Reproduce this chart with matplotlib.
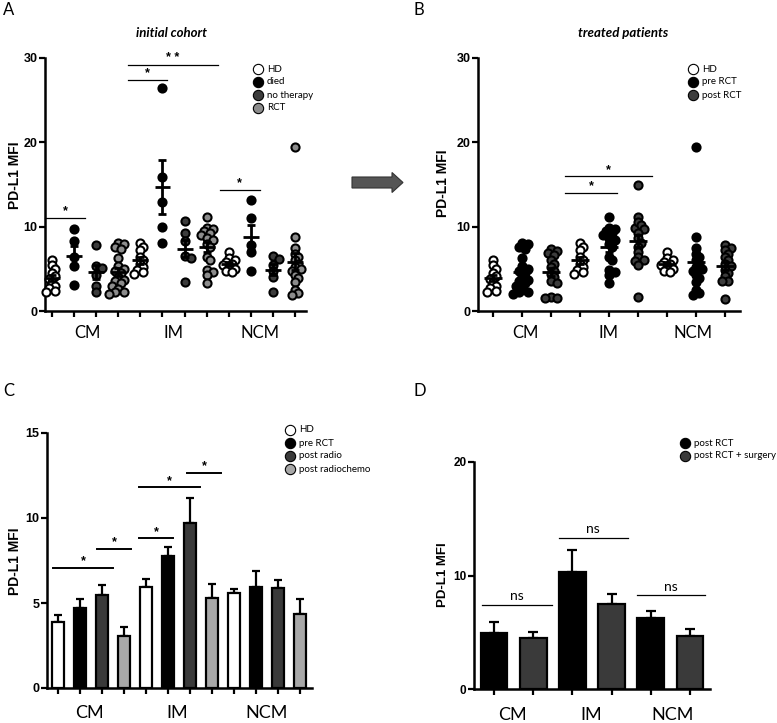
import numpy as np
import matplotlib
matplotlib.use('Agg')
import matplotlib.pyplot as plt
from matplotlib.patches import FancyArrow

# ---------------- DATA ----------------
groups = ['CM', 'IM', 'NCM']

# Panel A: initial cohort (individual values)
a_labels = ['HD', 'died', 'no therapy', 'RCT']
hd_cm = [6.1, 5.4, 5.0, 4.5, 4.1, 3.8, 3.4, 3.0, 2.7, 2.4, 2.3]
hd_im = [8.1, 7.6, 7.2, 6.4, 6.0, 5.6, 5.2, 4.9, 4.6, 4.4]
hd_ncm = [7.0, 6.3, 6.0, 5.8, 5.6, 5.4, 5.2, 5.0, 4.8, 4.6]
died_cm = [9.7, 8.3, 6.4, 5.3, 3.1]
died_im = [26.5, 15.9, 12.9, 10.0, 8.1]
died_ncm = [13.2, 11.0, 7.8, 7.0, 4.7]
noth_cm = [7.8, 5.3, 5.1, 4.3, 3.0, 2.3]
noth_im = [10.7, 9.2, 8.3, 6.5, 6.3, 3.4]
noth_ncm = [6.5, 6.2, 5.5, 4.8, 4.0, 2.3]
rct_cm = [8.1, 7.9, 7.6, 7.4, 6.3, 5.3, 5.0, 4.8, 4.5, 4.0, 3.7, 3.5, 3.3, 3.0, 2.6, 2.3, 2.2, 2.0]
rct_im = [11.2, 9.9, 9.7, 9.5, 9.3, 9.0, 8.7, 8.4, 8.0, 7.6, 6.4, 6.0, 4.9, 4.6, 4.3, 3.3]
rct_ncm = [19.4, 8.8, 7.5, 6.8, 6.4, 6.0, 5.6, 5.2, 5.0, 4.7, 4.3, 3.9, 3.4, 2.5, 2.1, 1.9]

# Panel B: treated patients
b_labels = ['HD', 'pre RCT', 'post RCT']
post_cm = [7.3, 7.1, 6.9, 6.6, 6.0, 5.6, 5.2, 4.8, 4.4, 4.0, 3.6, 3.3, 1.7, 1.5, 1.5]
post_im = [14.9, 11.2, 9.9, 10.6, 10.2, 9.7, 9.2, 8.6, 8.1, 7.6, 7.0, 6.4, 6.1, 5.9, 5.5, 1.7]
post_ncm = [7.8, 7.5, 7.2, 6.8, 6.4, 6.0, 5.6, 5.3, 4.9, 4.5, 4.1, 3.6, 3.5, 1.4]

# Panel C: bars (mean, SEM)
c_labels = ['HD', 'pre RCT', 'post radio', 'post radiochemo']
c_means = [3.90, 4.73, 5.48, 3.03, 5.96, 7.76, 9.68, 5.32, 5.61, 5.96, 5.87, 4.36]
c_sems = [0.40, 0.49, 0.58, 0.53, 0.44, 0.55, 1.51, 0.80, 0.22, 0.94, 0.49, 0.88]

# Panel D: bars (mean, SEM)
d_labels = ['post RCT', 'post RCT + surgery']
d_means = [4.96, 4.46, 10.32, 7.48, 6.22, 4.66]
d_sems = [0.91, 0.58, 1.97, 0.88, 0.67, 0.59]

# significance annotations (x1, x2, y, text)
a_sig = [(-0.3, 1.5, 11.0, '*'), (3.45, 5.2, 27.4, '*'), (3.45, 7.5, 29.2, '* *'), (7.6, 9.4, 14.4, '*')]
b_sig = [(2.48, 4.28, 14.0, '*'), (2.48, 5.48, 15.95, '*')]
c_sig = [(-0.23, 2.5, 7.08, '*'), (1.77, 3.32, 8.18, '*'), (3.68, 5.23, 8.8, '*'),
         (3.68, 6.45, 11.8, '*'), (5.86, 7.41, 12.65, '*')]
d_sig = [(-0.3, 1.48, 7.39, 'ns'), (1.65, 3.41, 13.34, 'ns'), (3.64, 5.37, 8.24, 'ns')]

# ---------------- STYLE ----------------
a_colors = ['white', 'black', '#3c3c3c', '#8c8c8c']
b_colors = ['white', 'black', '#3c3c3c']
c_colors = ['white', 'black', '#3a3a3a', '#a8a8a8']
d_colors = ['black', '#3a3a3a']
SANS = ['Liberation Sans', 'DejaVu Sans']
CAL = ['Lato', 'DejaVu Sans']

W, H = 777, 723
fig = plt.figure(figsize=(W / 100, H / 100), dpi=100)

overlay = fig.add_axes([0, 0, 1, 1])
overlay.set_xlim(0, W)
overlay.set_ylim(H, 0)
overlay.axis('off')


def ax_px(l, t, r, b):
    return fig.add_axes([l / W, 1 - b / H, (r - l) / W, (b - t) / H])


def style(ax, xlim, ylim, yticks, tickfs=9):
    ax.set_xlim(*xlim)
    ax.set_ylim(*ylim)
    for s in ['top', 'right']:
        ax.spines[s].set_visible(False)
    for s in ['left', 'bottom']:
        ax.spines[s].set_linewidth(1.8)
    ax.set_yticks(yticks)
    ax.tick_params(direction='out', length=4.5, width=1.6, pad=1)
    ax.set_xticklabels([])
    ax.set_yticklabels([str(t) for t in yticks])
    for lab in ax.get_yticklabels():
        lab.set_fontfamily(SANS)
        lab.set_fontweight('bold')
        lab.set_fontsize(tickfs)
    ax.patch.set_alpha(0)


def swarm(vals, xpx, ypx, d=6.0):
    vals = np.asarray(vals, float)
    offs = np.zeros(len(vals))
    placed = []
    for i in np.argsort(-vals):
        y = vals[i] * ypx
        k = 0
        while True:
            step = (k + 1) // 2 * (1 if k % 2 == 1 else -1)
            x = step * d * 0.5
            if all((x - px) ** 2 + (y - py) ** 2 >= d * d * 0.55 for px, py in placed) or k > 8:
                break
            k += 1
        placed.append((x, y))
        offs[i] = x / xpx
    return offs


def dots(ax, data, colors, xpx, ypx, half, cap):
    for i, vals in enumerate(data):
        vals = np.asarray(vals, float)
        off = swarm(vals, xpx, ypx)
        ax.scatter(i + off, vals, s=34, c=colors[i % len(colors)], edgecolors='black',
                   linewidths=1.5, zorder=3, clip_on=False)
        m = vals.mean()
        se = vals.std(ddof=1) / np.sqrt(len(vals))
        ax.hlines(m, i - half, i + half, color='black', lw=2.0, zorder=4)
        ax.errorbar(i, m, yerr=se, fmt='none', ecolor='black', elinewidth=2.0,
                    capsize=cap, capthick=2.0, zorder=4)


def sig(ax, items, lw=0.9, fs=9, ns=False):
    for x1, x2, y, t in items:
        ax.plot([x1, x2], [y, y], color='black', lw=lw, clip_on=False)
        if ns:
            ax.annotate(t, ((x1 + x2) / 2, y), xytext=(0, 2), textcoords='offset points',
                        ha='center', va='bottom', fontsize=10, fontfamily=CAL)
        else:
            ax.annotate(t, ((x1 + x2) / 2, y), xytext=(0, 0.5), textcoords='offset points',
                        ha='center', va='bottom', fontsize=fs, fontweight='bold', fontfamily=SANS)


def cats(ax, xs, yax, fs):
    for x, g in zip(xs, groups):
        ax.text(x, yax, g, transform=ax.get_xaxis_transform(), ha='center', va='center',
                fontsize=fs, fontfamily=CAL)


def legend(x, y, labels, colors, dy=13, fs=7):
    for k, (lab, col) in enumerate(zip(labels, colors)):
        overlay.scatter([x], [y + k * dy], s=55, c=col, edgecolors='black', linewidths=0.8)
        overlay.text(x + 9, y + k * dy, lab, ha='left', va='center', fontsize=fs, fontfamily=CAL)


def ylab(x, y, fs=10):
    overlay.text(x, y, 'PD-L1 MFI', rotation=90, ha='center', va='center', fontsize=fs,
                 fontweight='bold', fontfamily=SANS)


# ---------------- PANEL A ----------------
axA = ax_px(45, 58, 306, 311)
a_data = [hd_cm, died_cm, noth_cm, rct_cm, hd_im, died_im, noth_im, rct_im,
          hd_ncm, died_ncm, noth_ncm, rct_ncm]
style(axA, (-0.32, 11.5), (0, 30), [0, 10, 20, 30])
axA.set_xticks(np.arange(12))
dots(axA, a_data, a_colors, 22.1, 8.43, 0.36, 2.8)
sig(axA, a_sig)
cats(axA, [1.6, 5.5, 9.4], -0.087, 12)

# ---------------- PANEL B ----------------
axB = ax_px(478, 58, 740, 311)
b_data = [hd_cm, rct_cm, post_cm, hd_im, rct_im, post_im, hd_ncm, rct_ncm, post_ncm]
style(axB, (-0.52, 8.52), (0, 30), [0, 10, 20, 30])
axB.set_xticks(np.arange(9))
dots(axB, b_data, b_colors, 29.0, 8.43, 0.31, 2.8)
sig(axB, b_sig)
cats(axB, [1.1, 4.0, 6.9], -0.087, 12)

# ---------------- PANEL C ----------------
axC = ax_px(47, 433, 312, 688)
style(axC, (-0.5, 11.55), (0, 15), [0, 5, 10, 15])
xc = np.arange(12)
axC.set_xticks(xc)
axC.bar(xc, c_means, width=0.58, color=[c_colors[i % 4] for i in xc], edgecolor='black',
        linewidth=1.6, zorder=2)
axC.errorbar(xc, c_means, yerr=[np.zeros(12), c_sems], fmt='none', ecolor='black',
             elinewidth=1.6, capsize=3.2, capthick=1.6, zorder=1)
sig(axC, c_sig, lw=1.4)
cats(axC, [1.45, 5.4, 9.5], -0.098, 13)

# ---------------- PANEL D ----------------
axD = ax_px(474, 462, 710, 689)
style(axD, (-0.51, 5.51), (0, 20), [0, 10, 20], tickfs=8.5)
xd = np.arange(6)
axD.set_xticks(xd)
axD.bar(xd, d_means, width=0.68, color=[d_colors[i % 2] for i in xd], edgecolor='black',
        linewidth=1.6, zorder=2)
axD.errorbar(xd, d_means, yerr=[np.zeros(6), d_sems], fmt='none', ecolor='black',
             elinewidth=1.6, capsize=3.6, capthick=1.6, zorder=1)
sig(axD, d_sig, lw=0.9, ns=True)
cats(axD, [0.48, 2.49, 4.55], -0.115, 13)

# ---------------- DECORATIONS ----------------
for lab, (x, y) in zip('ABCD', [(9, 10), (419, 10), (9, 391), (420, 391)]):
    overlay.text(x, y, lab, ha='center', va='center', fontsize=12, fontfamily=CAL)
overlay.text(171, 33, 'initial cohort', ha='center', va='center', fontsize=9.5,
             fontweight='bold', fontstyle='italic', fontfamily=CAL)
overlay.text(623, 33, 'treated patients', ha='center', va='center', fontsize=9.5,
             fontweight='bold', fontstyle='italic', fontfamily=CAL)
legend(258, 69, a_labels, a_colors)
legend(693, 69, b_labels, b_colors)
legend(290, 430, c_labels, c_colors)
legend(685, 443, d_labels, d_colors)
ylab(15, 175)
ylab(443, 183)
ylab(15, 561)
ylab(443, 575, fs=9.5)
overlay.add_patch(FancyArrow(352, 182.5, 51, 0, width=11, head_width=20, head_length=11,
                             length_includes_head=True, fc='#555555', ec='#333333', lw=0.8))

fig.savefig('out.png', dpi=100)
